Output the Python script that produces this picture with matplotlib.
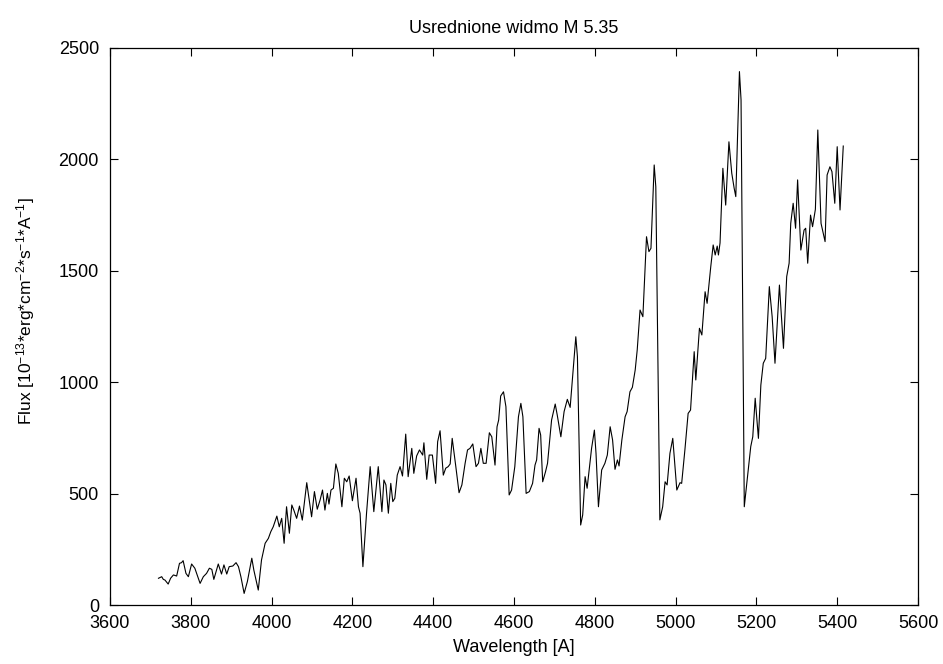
import matplotlib
matplotlib.use("Agg")
import matplotlib.pyplot as plt

plt.rcParams['font.family'] = ['Liberation Sans', 'DejaVu Sans']
plt.rcParams['mathtext.fontset'] = 'custom'
plt.rcParams['mathtext.rm'] = 'Liberation Sans'
plt.rcParams['mathtext.it'] = 'Liberation Sans'
plt.rcParams['mathtext.bf'] = 'Liberation Sans'

wavelength = [
    3720, 3728, 3732, 3736, 3744, 3750, 3757, 3765, 3772, 3777, 3781, 3788, 3794, 3802, 3810,
    3823, 3831, 3839, 3846, 3852, 3857, 3868, 3876, 3882, 3889, 3895, 3904, 3912, 3918, 3924,
    3932, 3940, 3951, 3956, 3967, 3975, 3984, 3992, 3998, 4004, 4013, 4019, 4025, 4031, 4037,
    4044, 4050, 4055, 4062, 4069, 4076, 4087, 4099, 4106, 4113, 4120, 4126, 4132, 4138, 4142,
    4147, 4153, 4159, 4165, 4174, 4180, 4186, 4192, 4200, 4209, 4215, 4219, 4226, 4235, 4244,
    4253, 4264, 4273, 4278, 4283, 4289, 4295, 4300, 4305, 4311, 4318, 4324, 4332, 4338, 4347,
    4352, 4359, 4366, 4374, 4377, 4384, 4390, 4398, 4406, 4411, 4417, 4425, 4431, 4437, 4442,
    4447, 4456, 4464, 4471, 4479, 4485, 4491, 4498, 4506, 4512, 4518, 4524, 4531, 4539, 4545,
    4553, 4558, 4562, 4567, 4574, 4580, 4588, 4594, 4602, 4611, 4617, 4622, 4630, 4638, 4646,
    4652, 4656, 4662, 4666, 4671, 4678, 4683, 4693, 4702, 4707, 4716, 4724, 4732, 4739, 4745,
    4753, 4757, 4765, 4770, 4776, 4781, 4792, 4799, 4803, 4809, 4817, 4825, 4831, 4838, 4844,
    4850, 4856, 4860, 4867, 4875, 4880, 4887, 4893, 4900, 4905, 4912, 4919, 4928, 4934, 4939,
    4947, 4951, 4961, 4968, 4974, 4979, 4986, 4993, 5003, 5011, 5015, 5023, 5031, 5037, 5046,
    5050, 5059, 5065, 5073, 5078, 5087, 5093, 5098, 5103, 5106, 5110, 5117, 5124, 5132, 5139,
    5145, 5149, 5158, 5162, 5170, 5178, 5186, 5191, 5197, 5205, 5211, 5217, 5223, 5232, 5239,
    5246, 5257, 5267, 5275, 5281, 5285, 5291, 5297, 5302, 5310, 5318, 5322, 5327, 5334, 5339,
    5346, 5352, 5360, 5370, 5375, 5382, 5387, 5394, 5400, 5407, 5415,
]

flux = [
    120, 127, 115, 112, 94, 120, 135, 130, 187, 190, 199, 142, 127, 184, 165,
    97, 127, 142, 165, 160, 115, 184, 139, 180, 139, 172, 175, 190, 172, 127,
    52, 105, 210, 157, 67, 202, 277, 299, 329, 351, 399, 351, 389, 277, 441,
    322, 449, 426, 389, 444, 381, 549, 396, 509, 430, 471, 516, 426, 501, 453,
    516, 524, 633, 591, 441, 569, 553, 579, 468, 569, 441, 412, 172, 412, 621,
    419, 621, 419, 561, 539, 412, 546, 464, 479, 583, 621, 579, 767, 576, 703,
    591, 669, 696, 673, 728, 564, 673, 673, 546, 733, 782, 583, 614, 621, 633,
    748, 621, 504, 539, 636, 696, 703, 723, 621, 636, 703, 636, 636, 773, 755,
    628, 800, 830, 938, 957, 890, 494, 516, 621, 845, 905, 845, 501, 509, 546,
    628, 651, 793, 763, 553, 598, 636, 830, 902, 853, 755, 868, 923, 887, 1025,
    1204, 1114, 359, 404, 576, 524, 703, 785, 681, 441, 606, 636, 673, 800, 741,
    609, 651, 624, 741, 845, 868, 957, 977, 1055, 1145, 1324, 1294, 1653, 1586, 1601,
    1975, 1877, 382, 441, 553, 539, 681, 748, 516, 549, 546, 696, 860, 875, 1137,
    1010, 1242, 1212, 1406, 1354, 1518, 1616, 1571, 1611, 1571, 1625, 1960, 1795, 2079, 1938,
    1870, 1833, 2394, 2267, 441, 576, 711, 755, 928, 748, 987, 1085, 1107, 1429, 1294,
    1085, 1436, 1152, 1474, 1534, 1713, 1803, 1691, 1908, 1593, 1683, 1691, 1534, 1750, 1698,
    1776, 2132, 1713, 1631, 1930, 1967, 1945, 1803, 2057, 1773, 2060,
]

x_ticks = [3600, 3800, 4000, 4200, 4400, 4600, 4800, 5000, 5200, 5400, 5600]
y_ticks = [0, 500, 1000, 1500, 2000, 2500]

W, H = 943, 664
fig = plt.figure(figsize=(W / 100, H / 100), dpi=100)
ax = fig.add_axes([110 / W, 1 - 605 / H, 808 / W, 557 / H])

ax.plot(wavelength, flux, color='black', linewidth=0.8)

ax.set_xlim(3600, 5600)
ax.set_ylim(0, 2500)
ax.set_xticks(x_ticks)
ax.set_yticks(y_ticks)
ax.tick_params(direction='in', top=True, right=True, length=5.8, width=0.8,
               labelsize=13)
ax.tick_params(axis='x', pad=7)
ax.tick_params(axis='y', pad=8)
for s in ax.spines.values():
    s.set_linewidth(0.9)

ax.set_title('Usrednione widmo M 5.35', fontsize=13, pad=11)
ax.set_xlabel('Wavelength [A]', fontsize=13, labelpad=5)
ax.set_ylabel(r'Flux [10$^{-13}$*erg*cm$^{-2}$*s$^{-1}$*A$^{-1}$]', fontsize=12.5)
ax.yaxis.set_label_coords((37 - 110) / 808, 1 - (311 - 48) / 557)

fig.savefig('out.png', dpi=100)
